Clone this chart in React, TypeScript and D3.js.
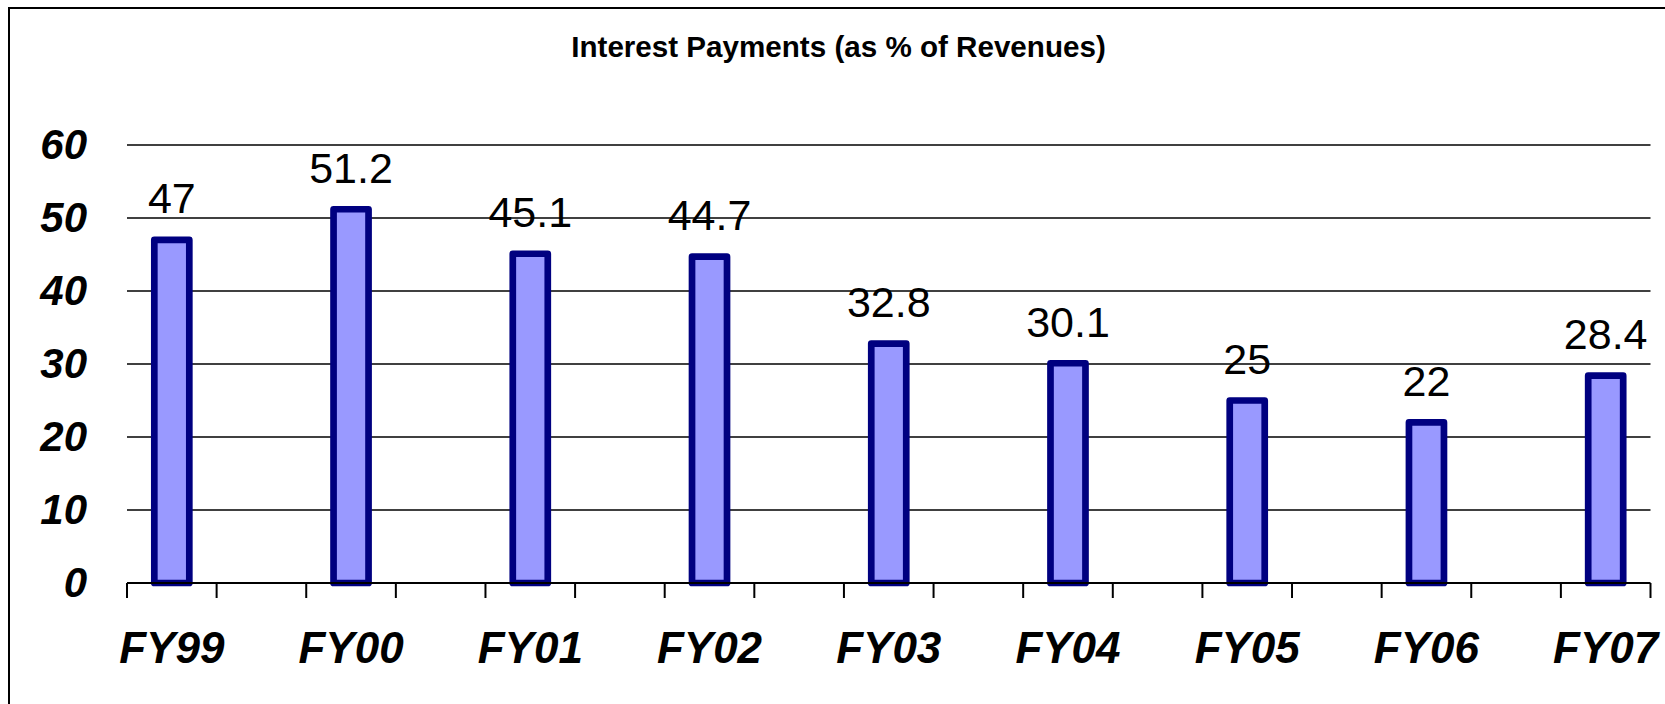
import React from "react";
import * as d3 from "d3";

const categories = ["FY99", "FY00", "FY01", "FY02", "FY03", "FY04", "FY05", "FY06", "FY07"];
const values = [47, 51.2, 45.1, 44.7, 32.8, 30.1, 25, 22, 28.4];
const valueLabels = ["47", "51.2", "45.1", "44.7", "32.8", "30.1", "25", "22", "28.4"];
const yTicks = [0, 10, 20, 30, 40, 50, 60];
const title = "Interest Payments (as % of Revenues)";

const W = 1665;
const H = 704;
const FONT = "'Liberation Sans', Arial, Helvetica, sans-serif";

export default function App() {
  const left = 127;
  const right = 1650.5;
  const slots = d3.range(categories.length * 2 - 1);
  const x = d3.scaleBand<number>().domain(slots).range([left, right]).padding(0);
  const y = d3.scaleLinear().domain([0, 60]).range([583, 145]);
  const barW = 35;
  const cx = (i: number) => (x(i * 2) as number) + x.bandwidth() / 2;
  const tickXs = slots.map((s) => x(s) as number).concat([right]);

  return (
    <svg
      width={W}
      height={H}
      style={{ position: "absolute", left: 0, top: 0, background: "#fff" }}
      fontFamily={FONT}
    >
      <rect x={0} y={0} width={W} height={H} fill="#fff" />
      {/* outer chart border (right/bottom off-canvas) */}
      <rect x={9} y={8} width={W + 20} height={H + 20} fill="none" stroke="#000" strokeWidth={2} />
      <text x={838.5} y={57} textAnchor="middle" fontSize={29.6} fontWeight="bold" fill="#000">
        {title}
      </text>
      {/* gridlines */}
      {yTicks.filter((t) => t > 0).map((t) => (
        <line key={t} x1={left} x2={right} y1={y(t)} y2={y(t)} stroke="#000" strokeWidth={1.6} />
      ))}
      {/* y tick labels */}
      {yTicks.map((t) => (
        <text
          key={"yl" + t}
          x={87}
          y={y(t) + 14}
          textAnchor="end"
          fontSize={42}
          fontWeight="bold"
          fontStyle="italic"
          fill="#000"
        >
          {t}
        </text>
      ))}
      {/* bars */}
      {values.map((v, i) => (
        <rect
          key={"b" + i}
          x={cx(i) - barW / 2}
          y={y(v)}
          width={barW}
          height={y(0) - y(v)}
          fill="#9999FF"
          stroke="#000080"
          strokeWidth={6.7}
          strokeLinejoin="round"
        />
      ))}
      {/* x axis */}
      <line x1={left} x2={right} y1={y(0)} y2={y(0)} stroke="#000" strokeWidth={2} />
      {tickXs.map((tx, i) => (
        <line key={"t" + i} x1={tx} x2={tx} y1={y(0)} y2={y(0) + 15} stroke="#000" strokeWidth={2} />
      ))}
      {/* value labels */}
      {values.map((v, i) => (
        <text key={"v" + i} x={cx(i)} y={y(v) - 26.5} textAnchor="middle" fontSize={43} fill="#000">
          {valueLabels[i]}
        </text>
      ))}
      {/* category labels */}
      {categories.map((c, i) => (
        <text
          key={"c" + i}
          x={cx(i)}
          y={663}
          textAnchor="middle"
          fontSize={44}
          fontWeight="bold"
          fontStyle="italic"
          fill="#000"
        >
          {c}
        </text>
      ))}
    </svg>
  );
}
